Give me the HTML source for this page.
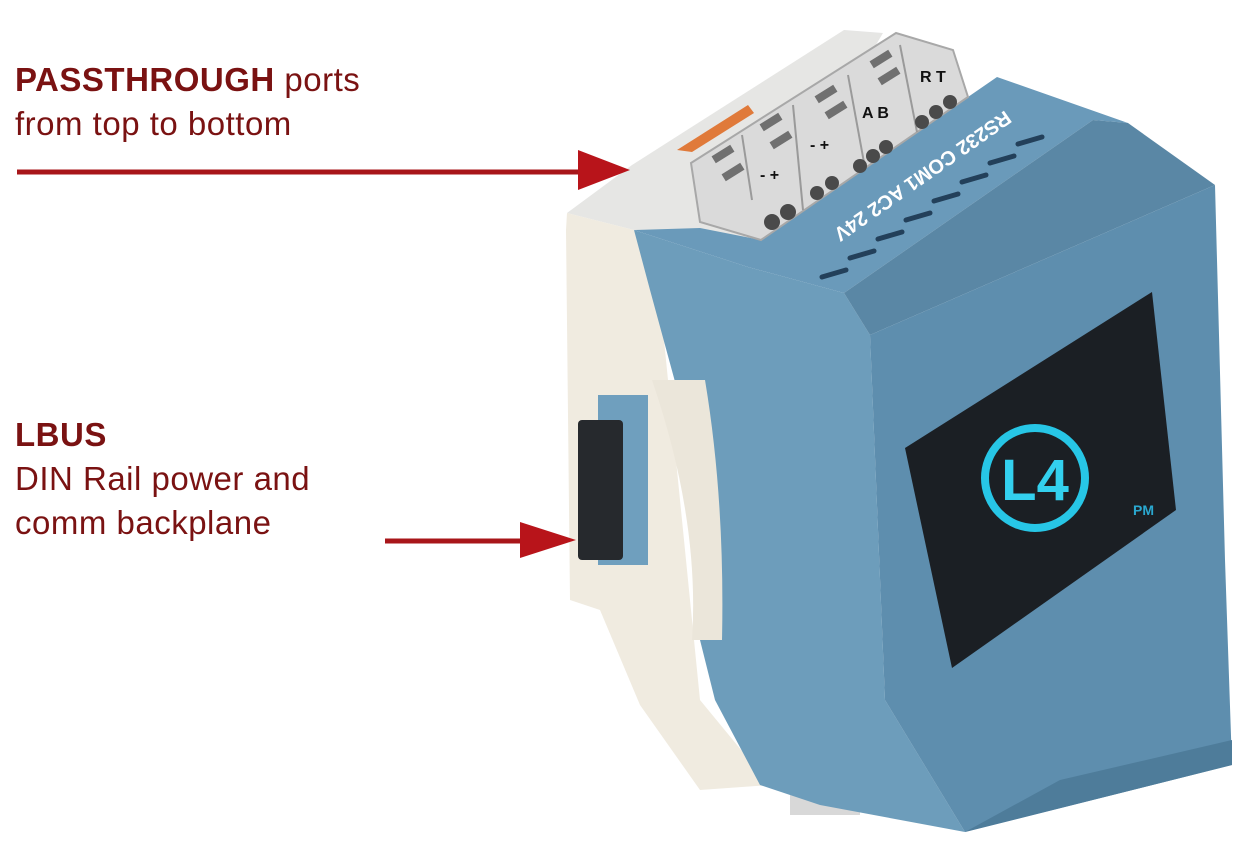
<!DOCTYPE html>
<html><head><meta charset="utf-8"><style>
body{margin:0;background:#fff;width:1244px;height:850px;overflow:hidden;position:relative;font-family:"Liberation Sans",sans-serif}
.t{position:absolute;color:#7a1212;font-size:33px;line-height:44px;letter-spacing:0.5px}
b{font-weight:bold}
</style></head><body>
<div class="t" style="left:15px;top:58px"><b>PASSTHROUGH</b> ports<br>from top to bottom</div>
<div class="t" style="left:15px;top:413px"><b>LBUS</b><br>DIN Rail power and<br>comm backplane</div>
<svg width="1244" height="850" style="position:absolute;left:0;top:0">
<rect x="790" y="775" width="70" height="40" fill="#d8d8d8"/>
<polygon points="567,213 632,165 844,30 883,33 760,240 634,230" fill="#e6e6e4"/>
<polygon points="567,213 634,230 660,300 700,700 770,785 700,790 640,705 600,610 570,600 566,230" fill="#f0ebe0"/>
<polygon points="634,230 748,267 844,293 870,335 885,700 965,832 820,805 760,785 715,700 700,640 680,400 650,290" fill="#6d9dbb"/>
<path d="M652,380 Q700,520 692,640 L722,640 Q725,500 705,380 Z" fill="#ebe6da"/>
<polygon points="634,230 700,228 761,240 968,97 997,77 1128,123 1093,120 844,293 748,267" fill="#6a9aba"/>
<polygon points="844,293 1093,120 1128,123 1215,185 870,335" fill="#5a87a5"/>
<polygon points="870,335 1215,185 1225,560 1232,765 965,832 885,700" fill="#5e8eae"/>
<polygon points="1060,780 1232,740 1232,765 965,832" fill="#4e7c9a"/>
<g stroke="#23405a" stroke-width="5" stroke-linecap="round">
<line x1="822" y1="277" x2="846" y2="270"/><line x1="850" y1="258" x2="874" y2="251"/>
<line x1="878" y1="239" x2="902" y2="232"/><line x1="906" y1="220" x2="930" y2="213"/>
<line x1="934" y1="201" x2="958" y2="194"/><line x1="962" y1="182" x2="986" y2="175"/>
<line x1="990" y1="163" x2="1014" y2="156"/><line x1="1018" y1="144" x2="1042" y2="137"/>
</g>
<polygon points="905,448 1152,292 1176,510 952,668" fill="#1b1f24"/>
<circle cx="1035" cy="478" r="50" fill="none" stroke="#27c6e6" stroke-width="8"/>
<text x="1035" y="500" font-family="Liberation Sans" font-weight="bold" font-size="58" fill="#33d0ee" text-anchor="middle">L4</text>
<text x="1133" y="515" font-family="Liberation Sans" font-weight="bold" font-size="14" fill="#2aa8d0">PM</text>
<polygon points="691,163 896,33 953,50 968,97 761,240 700,222" fill="#dadada" stroke="#a8a8a8" stroke-width="2"/>
<g stroke="#9a9a9a" stroke-width="2">
<line x1="752" y1="200" x2="742" y2="135"/><line x1="803" y1="210" x2="793" y2="105"/><line x1="865" y1="168" x2="848" y2="75"/><line x1="917" y1="132" x2="900" y2="45"/>
</g>
<g fill="#707070">
<rect x="712" y="150" width="22" height="8" transform="rotate(-32 723 154)"/><rect x="722" y="168" width="22" height="8" transform="rotate(-32 733 172)"/>
<rect x="760" y="118" width="22" height="8" transform="rotate(-32 771 122)"/><rect x="770" y="136" width="22" height="8" transform="rotate(-32 781 140)"/>
<rect x="815" y="90" width="22" height="8" transform="rotate(-32 826 94)"/><rect x="825" y="106" width="22" height="8" transform="rotate(-32 836 110)"/>
<rect x="870" y="55" width="22" height="8" transform="rotate(-32 881 59)"/><rect x="878" y="72" width="22" height="8" transform="rotate(-32 889 76)"/>
</g>
<g fill="#4a4a4a">
<circle cx="772" cy="222" r="8"/><circle cx="788" cy="212" r="8"/>
<circle cx="817" cy="193" r="7"/><circle cx="832" cy="183" r="7"/>
<circle cx="860" cy="166" r="7"/><circle cx="873" cy="156" r="7"/><circle cx="886" cy="147" r="7"/>
<circle cx="922" cy="122" r="7"/><circle cx="936" cy="112" r="7"/><circle cx="950" cy="102" r="7"/>
</g>
<g font-family="Liberation Sans" font-weight="bold" font-size="16" fill="#111">
<text x="760" y="180">- +</text><text x="810" y="150">- +</text><text x="862" y="118">A B</text><text x="920" y="82">R T</text>
</g>
<path d="M677,150 L748,105 L754,113 L692,152 Z" fill="#e07a3a"/>
<text x="1005" y="110" font-family="Liberation Sans" font-weight="bold" font-size="20" fill="#fff" transform="rotate(145 1005 110)">RS232  COM1  AC2  24V</text>
<rect x="598" y="395" width="50" height="170" fill="#6f9fbe"/>
<rect x="578" y="420" width="45" height="140" rx="4" fill="#26292d"/>
<line x1="17" y1="172" x2="590" y2="172" stroke="#a8161a" stroke-width="5"/>
<polygon points="578,150 630,170 578,190" fill="#b8141a"/>
<line x1="385" y1="541" x2="530" y2="541" stroke="#a8161a" stroke-width="5"/>
<polygon points="520,522 576,540 520,558" fill="#b8141a"/>
</svg>
</body></html>
